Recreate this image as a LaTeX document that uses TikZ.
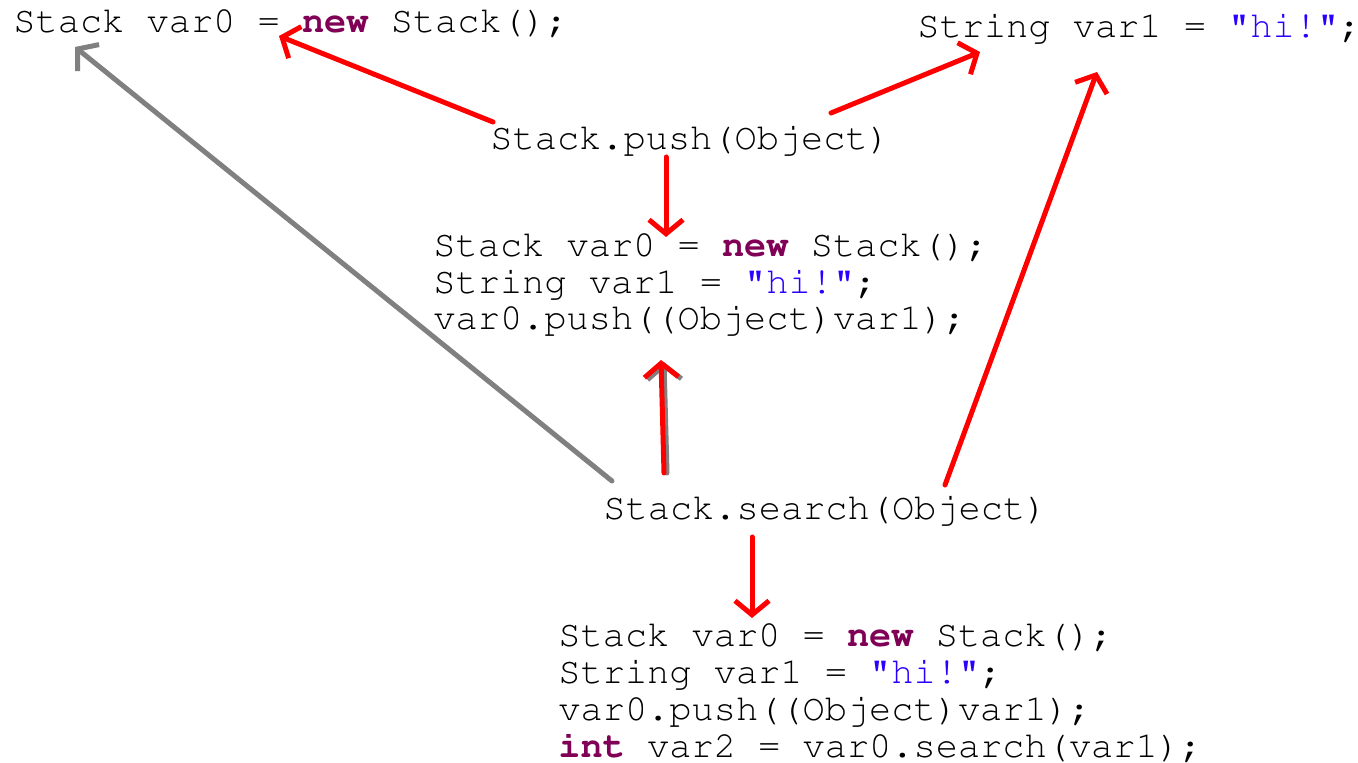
\documentclass[tikz,border=0pt]{standalone}
\usepackage[T1]{fontenc}
\usepackage{courier}
\usepackage{tikz}
\usetikzlibrary{arrows.meta, calc, positioning}

\definecolor{kwpurple}{RGB}{127,0,85}
\definecolor{strblue}{RGB}{42,0,255}
\newcommand{\kwd}[1]{\textbf{\textcolor{kwpurple}{#1}}}
\newcommand{\strlit}[1]{\textcolor{strblue}{#1}}

\begin{document}
\begin{tikzpicture}[x=0.5pt,y=-0.5pt,
		code/.style={inner sep=0pt, anchor=base west, align=left,
			font=\ttfamily\fontsize{18.5pt}{18.4pt}\selectfont},
		red edge/.style={draw=red, line width=2.5pt, line cap=round,
			-{Straight Barb[length=7pt,width=17pt]}},
		gray edge/.style={red edge, draw=gray}]
		\useasboundingbox (0,0) rectangle (1358,763);

		%% Nodes
		\begin{scope}
			\node (var0_decl) at (13,33) [code] {Stack var0 = \kwd{new} Stack();};
			\node (var1_decl) at (917,38) [code] {String var1 = \strlit{"hi!"};};
		\end{scope}

		% push (multi-line nodes sit on their last line)
		\begin{scope}
			\node (push_call) at (490,150) [code] {Stack.push(Object)};
			\node (push_seq) at (433,330) [code] {Stack var0 = \kwd{new} Stack();\\
				String var1 = \strlit{"hi!"};\\
				var0.push((Object)var1);};
		\end{scope}

		% search
		\begin{scope}
			\node (search_call) at (603,520) [code] {Stack.search(Object)};
			\node (search_seq) at (558,757) [code] {Stack var0 = \kwd{new} Stack();\\
				String var1 = \strlit{"hi!"};\\
				var0.push((Object)var1);\\
				\kwd{int} var2 = var0.search(var1);};
		\end{scope}

		%% Edges
		\draw[red edge] ($(push_call.base west)+(3,-28)$) -- ($(var0_decl.base west)+(266,3)$);
		\draw[red edge] ($(push_call.base west)+(341,-37)$) -- ($(var1_decl.base west)+(63,14)$);
		\draw[red edge] ($(push_call.base west)+(176,7)$) -- ($(push_seq.base west)+(233,-93)$);

		\draw[gray edge] ($(search_call.base west)+(9,-39)$) -- ($(var0_decl.base west)+(62,14)$);
		\draw[gray edge] ($(search_call.base west)+(64,-47)$) -- ($(push_seq.base west)+(231,32)$);
		\draw[red edge] ($(search_call.base west)+(61,-47)$) -- ($(push_seq.base west)+(228,30)$);
		\draw[red edge] ($(search_call.base west)+(342,-35)$) -- ($(var1_decl.base west)+(180,34)$);
		\draw[red edge] ($(search_call.base west)+(149,17)$) -- ($(search_seq.base west)+(194,-139)$);
	\end{tikzpicture}
\end{document}
